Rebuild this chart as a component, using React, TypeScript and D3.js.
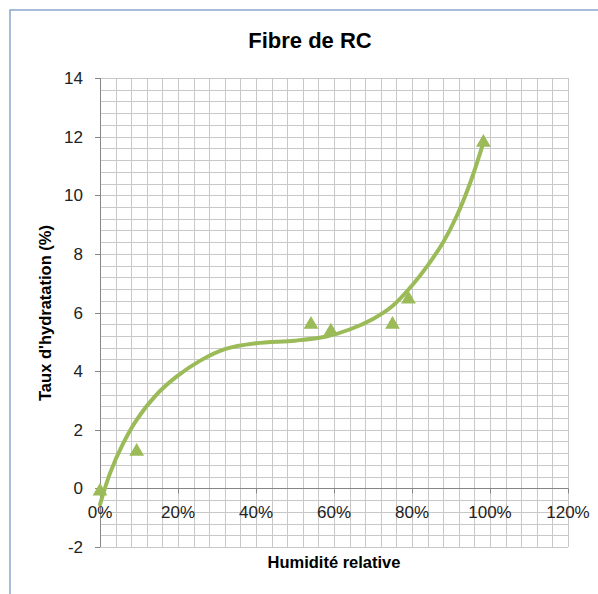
import React, { useEffect, useRef } from 'react';
import * as d3 from 'd3';

// mesures (humidité relative en %, taux d'hydratation en %)
const humidity = [0, 9.4, 54.1, 59.2, 75.0, 79.1, 98.3];
const hydration = [-0.1, 1.26, 5.59, 5.36, 5.59, 6.45, 11.8];

// courbe de tendance
const trendHumidity = [0, 2.6, 6, 9.4, 14.5, 19.7, 25.6, 32, 40, 50, 58, 64, 70, 75, 80, 84, 88, 91.5, 95, 98.2];
const trendHydration = [-0.55, 0.53, 1.55, 2.34, 3.2, 3.82, 4.35, 4.75, 4.95, 5.04, 5.18, 5.42, 5.78, 6.22, 6.92, 7.6, 8.4, 9.3, 10.45, 11.75];

const xTicks = [0, 20, 40, 60, 80, 100, 120];
const yTicks = [-2, 0, 2, 4, 6, 8, 10, 12, 14];

const title = 'Fibre de RC';
const xTitle = 'Humidité relative';
const yTitle = "Taux d'hydratation (%)";

const green = '#9BBB59';
const font = '"Liberation Sans", Arial, sans-serif';

function App() {
  const svgRef = useRef<SVGSVGElement>(null);

  useEffect(() => {
    const svg = d3.select(svgRef.current);
    svg.selectAll('*').remove();

    const x = d3.scaleLinear().domain([0, 120]).range([100, 568]);
    const y = d3.scaleLinear().domain([-2, 14]).range([547, 78]);

    // cadre du graphique
    svg.append('rect')
      .attr('x', 10).attr('y', 10)
      .attr('width', 620).attr('height', 620)
      .attr('fill', '#fff')
      .attr('stroke', '#89a6cc')
      .attr('stroke-width', 1.5);

    // quadrillage
    const grid = svg.append('g').attr('stroke', '#c8c8c8').attr('stroke-width', 1);
    grid.selectAll('line.v')
      .data(d3.range(0, 120.01, 4))
      .join('line')
      .attr('class', 'v')
      .attr('x1', d => Math.round(x(d)) + 0.5)
      .attr('x2', d => Math.round(x(d)) + 0.5)
      .attr('y1', y(14)).attr('y2', y(-2));
    grid.selectAll('line.h')
      .data(d3.range(-2, 14.01, 0.4))
      .join('line')
      .attr('class', 'h')
      .attr('y1', d => Math.round(y(d)) + 0.5)
      .attr('y2', d => Math.round(y(d)) + 0.5)
      .attr('x1', x(0)).attr('x2', x(120));

    // axes
    const axisColor = '#868686';
    svg.append('line')
      .attr('x1', x(0) + 0.5).attr('x2', x(0) + 0.5)
      .attr('y1', y(14)).attr('y2', y(-2))
      .attr('stroke', axisColor);
    svg.append('line')
      .attr('x1', x(0)).attr('x2', x(120))
      .attr('y1', Math.round(y(0)) + 0.5).attr('y2', Math.round(y(0)) + 0.5)
      .attr('stroke', axisColor);

    svg.append('g')
      .selectAll('line')
      .data(yTicks)
      .join('line')
      .attr('x1', x(0) - 5).attr('x2', x(0))
      .attr('y1', d => Math.round(y(d)) + 0.5)
      .attr('y2', d => Math.round(y(d)) + 0.5)
      .attr('stroke', axisColor);
    svg.append('g')
      .selectAll('line')
      .data(xTicks)
      .join('line')
      .attr('x1', d => Math.round(x(d)) + 0.5)
      .attr('x2', d => Math.round(x(d)) + 0.5)
      .attr('y1', y(0)).attr('y2', y(0) + 5)
      .attr('stroke', axisColor);

    svg.append('g')
      .selectAll('text')
      .data(yTicks)
      .join('text')
      .attr('x', 83)
      .attr('y', d => y(d) + 6)
      .attr('text-anchor', 'end')
      .attr('font-family', font)
      .attr('font-size', 17)
      .attr('fill', '#222')
      .text(d => d);

    svg.append('g')
      .selectAll('text')
      .data(xTicks)
      .join('text')
      .attr('x', d => x(d))
      .attr('y', 518)
      .attr('text-anchor', 'middle')
      .attr('font-family', font)
      .attr('font-size', 17)
      .attr('fill', '#222')
      .text(d => `${d}%`);

    // courbe de tendance
    const pts = trendHumidity.map((h, i) => [h, trendHydration[i]] as [number, number]);
    const line = d3.line<[number, number]>()
      .x(d => x(d[0]))
      .y(d => y(d[1]))
      .curve(d3.curveCatmullRom.alpha(0.5));
    svg.append('path')
      .attr('d', line(pts))
      .attr('fill', 'none')
      .attr('stroke', green)
      .attr('stroke-width', 4)
      .attr('stroke-linecap', 'round');

    // points
    const tri = d3.symbol().type(d3.symbolTriangle).size(95);
    svg.append('g')
      .selectAll('path')
      .data(humidity.map((h, i) => [h, hydration[i]]))
      .join('path')
      .attr('d', tri)
      .attr('transform', d => `translate(${x(d[0])},${y(d[1])})`)
      .attr('fill', green);

    // titres
    svg.append('text')
      .attr('x', 310).attr('y', 48)
      .attr('text-anchor', 'middle')
      .attr('font-family', font)
      .attr('font-weight', 'bold')
      .attr('font-size', 22)
      .attr('fill', '#000')
      .text(title);

    svg.append('text')
      .attr('x', 334).attr('y', 568)
      .attr('text-anchor', 'middle')
      .attr('font-family', font)
      .attr('font-weight', 'bold')
      .attr('font-size', 16.5)
      .attr('fill', '#000')
      .text(xTitle);

    svg.append('text')
      .attr('transform', 'translate(51,313) rotate(-90)')
      .attr('text-anchor', 'middle')
      .attr('font-family', font)
      .attr('font-weight', 'bold')
      .attr('font-size', 16.5)
      .attr('fill', '#000')
      .text(yTitle);
  }, []);

  return (
    <svg
      ref={svgRef}
      width={598}
      height={594}
      style={{ position: 'absolute', left: 0, top: 0, background: '#fff' }}
    />
  );
}

export default App;
